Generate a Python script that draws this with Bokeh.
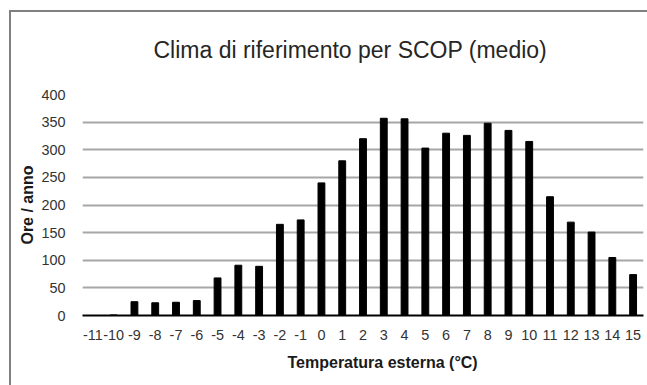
from bokeh.plotting import figure
from bokeh.models import FactorRange, Range1d, SingleIntervalTicker, Title, InlineStyleSheet
from bokeh.embed import file_html
from bokeh.resources import INLINE

# Data
temps = ["-11", "-10", "-9", "-8", "-7", "-6", "-5", "-4", "-3", "-2", "-1", "0",
         "1", "2", "3", "4", "5", "6", "7", "8", "9", "10", "11", "12", "13", "14", "15"]
hours = [0, 1, 25, 23, 24, 27, 68, 91, 89, 165, 173, 240,
         280, 320, 357, 356, 303, 330, 326, 348, 335, 315, 215, 169, 151, 105, 74]

title_text = "Clima di riferimento per SCOP (medio)"
x_title = "Temperatura esterna (°C)"
y_title = "Ore / anno"

FONT = "Liberation Sans"

p = figure(
    width=647, height=385,
    x_range=FactorRange(factors=temps, range_padding=0),
    y_range=Range1d(0, 400),
    output_backend="svg", toolbar_location=None,
    min_border_left=82, min_border_right=4, min_border_top=94, min_border_bottom=70,
)
p.toolbar.visible = False

# Chart-area border drawn as the host's CSS background behind a transparent border fill
p.stylesheets = [InlineStyleSheet(css=(
    ":host { background-color: white;"
    " background-image: linear-gradient(#808080, #808080), linear-gradient(#808080, #808080);"
    " background-position: 9px 10px, 9px 10px;"
    " background-size: 2px 100%, 100% 2px;"
    " background-repeat: no-repeat, no-repeat; }"
))]
p.border_fill_color = None
p.background_fill_color = "white"

p.vbar(x=temps, top=hours, width=0.33, color="black")

# Title
p.title.text = title_text
p.title.text_font = FONT
p.title.text_font_size = "23px"
p.title.text_font_style = "normal"
p.title.text_color = "#262626"
p.title.align = "left"
p.title.offset = 71
p.title.standoff = 64

# X axis title (below, positioned to match reference)
xt = Title(text=x_title, text_font=FONT, text_font_size="16px",
           text_font_style="bold", text_color="#1a1a1a",
           align="left", offset=205, standoff=18)
p.add_layout(xt, "below")

p.outline_line_color = None

# Grid
p.xgrid.grid_line_color = None
p.ygrid.grid_line_color = "#a6a6a6"
p.ygrid.grid_line_width = 2
p.yaxis.ticker = SingleIntervalTicker(interval=50)

# X axis
xa = p.xaxis[0]
xa.axis_line_color = "black"
xa.axis_line_width = 2
xa.major_tick_line_color = None
xa.minor_tick_line_color = None
xa.major_label_text_font = FONT
xa.major_label_text_font_size = "14.4px"
xa.major_label_text_color = "#333333"
xa.major_label_standoff = 8

# Y axis
ya = p.yaxis[0]
ya.axis_line_color = None
ya.major_tick_line_color = None
ya.minor_tick_line_color = None
ya.major_label_text_font = FONT
ya.major_label_text_font_size = "14.4px"
ya.major_label_text_color = "#333333"
ya.major_label_standoff = 11
ya.axis_label = y_title
ya.axis_label_text_font = FONT
ya.axis_label_text_font_size = "16px"
ya.axis_label_text_font_style = "bold"
ya.axis_label_text_color = "#1a1a1a"
ya.axis_label_standoff = 2

open("out.html", "w").write(file_html(p, INLINE))
